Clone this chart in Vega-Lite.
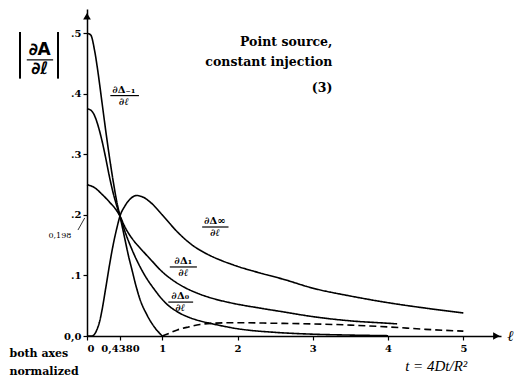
{
  "$schema": "https://vega.github.io/schema/vega-lite/v6.json",
  "width": 414,
  "height": 327,
  "autosize": "none",
  "padding": {"left": 87, "top": 9, "right": 16, "bottom": 41},
  "background": "white",
  "config": {"view": {"stroke": null}, "font": "DejaVu Serif"},
  "encoding": {
    "x": {"field": "t", "type": "quantitative", "scale": {"domain": [0, 5.5], "nice": false, "zero": false},
      "axis": {"values": [0, 0.438, 1, 2, 3, 4, 5], "labelExpr": "datum.value == 0.438 ? '0,4380' : format(datum.value, 'd')",
        "title": null, "grid": false, "domainColor": "black", "domainWidth": 1.5, "tickColor": "black", "tickSize": 4, "tickWidth": 1.2,
        "labelFont": "DejaVu Serif", "labelFontWeight": "bold", "labelFontSize": 10, "labelColor": "black", "labelPadding": 3, "labelOverlap": false}},
    "y": {"field": "v", "type": "quantitative", "scale": {"domain": [0, 0.54], "nice": false, "zero": false},
      "axis": {"values": [0, 0.1, 0.2, 0.3, 0.4, 0.5], "labelExpr": "datum.value == 0 ? '0,0' : '.' + round(datum.value * 10)",
        "title": null, "grid": false, "domainColor": "black", "domainWidth": 1.5, "tickColor": "black", "tickSize": 4, "tickWidth": 1.2,
        "labelFont": "DejaVu Serif", "labelFontWeight": "bold", "labelFontSize": 10, "labelColor": "black", "labelPadding": 2}}
  },
  "layer": [
    {
      "data": {"values": [
        {"series": "m1", "kind": "solid", "t": 0, "v": 0.5}, {"series": "m1", "kind": "solid", "t": 0.05, "v": 0.497}, {"series": "m1", "kind": "solid", "t": 0.1, "v": 0.472}, {"series": "m1", "kind": "solid", "t": 0.15, "v": 0.432}, {"series": "m1", "kind": "solid", "t": 0.2, "v": 0.385}, {"series": "m1", "kind": "solid", "t": 0.25, "v": 0.338}, {"series": "m1", "kind": "solid", "t": 0.3, "v": 0.294}, {"series": "m1", "kind": "solid", "t": 0.35, "v": 0.254}, {"series": "m1", "kind": "solid", "t": 0.4, "v": 0.219}, {"series": "m1", "kind": "solid", "t": 0.438, "v": 0.198}, {"series": "m1", "kind": "solid", "t": 0.5, "v": 0.162}, {"series": "m1", "kind": "solid", "t": 0.55, "v": 0.133}, {"series": "m1", "kind": "solid", "t": 0.6, "v": 0.108}, {"series": "m1", "kind": "solid", "t": 0.65, "v": 0.083}, {"series": "m1", "kind": "solid", "t": 0.7, "v": 0.062}, {"series": "m1", "kind": "solid", "t": 0.8, "v": 0.034}, {"series": "m1", "kind": "solid", "t": 0.9, "v": 0.014}, {"series": "m1", "kind": "solid", "t": 1.0, "v": 0},
        {"series": "d0", "kind": "solid", "t": 0, "v": 0.375}, {"series": "d0", "kind": "solid", "t": 0.05, "v": 0.373}, {"series": "d0", "kind": "solid", "t": 0.1, "v": 0.364}, {"series": "d0", "kind": "solid", "t": 0.15, "v": 0.346}, {"series": "d0", "kind": "solid", "t": 0.2, "v": 0.322}, {"series": "d0", "kind": "solid", "t": 0.25, "v": 0.293}, {"series": "d0", "kind": "solid", "t": 0.3, "v": 0.262}, {"series": "d0", "kind": "solid", "t": 0.35, "v": 0.235}, {"series": "d0", "kind": "solid", "t": 0.4, "v": 0.213}, {"series": "d0", "kind": "solid", "t": 0.438, "v": 0.198}, {"series": "d0", "kind": "solid", "t": 0.5, "v": 0.174}, {"series": "d0", "kind": "solid", "t": 0.6, "v": 0.142}, {"series": "d0", "kind": "solid", "t": 0.75, "v": 0.104}, {"series": "d0", "kind": "solid", "t": 0.9, "v": 0.076}, {"series": "d0", "kind": "solid", "t": 1.04, "v": 0.055}, {"series": "d0", "kind": "solid", "t": 1.2, "v": 0.04}, {"series": "d0", "kind": "solid", "t": 1.35, "v": 0.031}, {"series": "d0", "kind": "solid", "t": 1.5, "v": 0.025}, {"series": "d0", "kind": "solid", "t": 1.67, "v": 0.02}, {"series": "d0", "kind": "solid", "t": 2.0, "v": 0.012}, {"series": "d0", "kind": "solid", "t": 2.5, "v": 0.006}, {"series": "d0", "kind": "solid", "t": 3.0, "v": 0.003}, {"series": "d0", "kind": "solid", "t": 3.5, "v": 0.0015}, {"series": "d0", "kind": "solid", "t": 4.0, "v": 0.0005},
        {"series": "d1", "kind": "solid", "t": 0, "v": 0.25}, {"series": "d1", "kind": "solid", "t": 0.1, "v": 0.245}, {"series": "d1", "kind": "solid", "t": 0.2, "v": 0.234}, {"series": "d1", "kind": "solid", "t": 0.3, "v": 0.221}, {"series": "d1", "kind": "solid", "t": 0.4, "v": 0.206}, {"series": "d1", "kind": "solid", "t": 0.438, "v": 0.198}, {"series": "d1", "kind": "solid", "t": 0.5, "v": 0.181}, {"series": "d1", "kind": "solid", "t": 0.56, "v": 0.168}, {"series": "d1", "kind": "solid", "t": 0.63, "v": 0.156}, {"series": "d1", "kind": "solid", "t": 0.7, "v": 0.146}, {"series": "d1", "kind": "solid", "t": 0.84, "v": 0.127}, {"series": "d1", "kind": "solid", "t": 1.0, "v": 0.106}, {"series": "d1", "kind": "solid", "t": 1.13, "v": 0.093}, {"series": "d1", "kind": "solid", "t": 1.3, "v": 0.08}, {"series": "d1", "kind": "solid", "t": 1.46, "v": 0.071}, {"series": "d1", "kind": "solid", "t": 1.7, "v": 0.061}, {"series": "d1", "kind": "solid", "t": 1.9, "v": 0.055}, {"series": "d1", "kind": "solid", "t": 2.3, "v": 0.046}, {"series": "d1", "kind": "solid", "t": 2.6, "v": 0.04}, {"series": "d1", "kind": "solid", "t": 3.0, "v": 0.032}, {"series": "d1", "kind": "solid", "t": 3.5, "v": 0.025}, {"series": "d1", "kind": "solid", "t": 4.0, "v": 0.021}, {"series": "d1", "kind": "solid", "t": 4.12, "v": 0.02},
        {"series": "dinf", "kind": "solid", "t": 0, "v": 0}, {"series": "dinf", "kind": "solid", "t": 0.07, "v": 0}, {"series": "dinf", "kind": "solid", "t": 0.1, "v": 0.003}, {"series": "dinf", "kind": "solid", "t": 0.13, "v": 0.01}, {"series": "dinf", "kind": "solid", "t": 0.17, "v": 0.025}, {"series": "dinf", "kind": "solid", "t": 0.2, "v": 0.043}, {"series": "dinf", "kind": "solid", "t": 0.25, "v": 0.08}, {"series": "dinf", "kind": "solid", "t": 0.3, "v": 0.118}, {"series": "dinf", "kind": "solid", "t": 0.35, "v": 0.152}, {"series": "dinf", "kind": "solid", "t": 0.4, "v": 0.18}, {"series": "dinf", "kind": "solid", "t": 0.438, "v": 0.198}, {"series": "dinf", "kind": "solid", "t": 0.5, "v": 0.214}, {"series": "dinf", "kind": "solid", "t": 0.58, "v": 0.227}, {"series": "dinf", "kind": "solid", "t": 0.66, "v": 0.232}, {"series": "dinf", "kind": "solid", "t": 0.75, "v": 0.229}, {"series": "dinf", "kind": "solid", "t": 0.85, "v": 0.22}, {"series": "dinf", "kind": "solid", "t": 1.0, "v": 0.2}, {"series": "dinf", "kind": "solid", "t": 1.2, "v": 0.172}, {"series": "dinf", "kind": "solid", "t": 1.4, "v": 0.15}, {"series": "dinf", "kind": "solid", "t": 1.6, "v": 0.135}, {"series": "dinf", "kind": "solid", "t": 1.8, "v": 0.124}, {"series": "dinf", "kind": "solid", "t": 2.0, "v": 0.115}, {"series": "dinf", "kind": "solid", "t": 2.3, "v": 0.104}, {"series": "dinf", "kind": "solid", "t": 2.6, "v": 0.094}, {"series": "dinf", "kind": "solid", "t": 3.0, "v": 0.079}, {"series": "dinf", "kind": "solid", "t": 3.5, "v": 0.066}, {"series": "dinf", "kind": "solid", "t": 4.0, "v": 0.055}, {"series": "dinf", "kind": "solid", "t": 4.5, "v": 0.046}, {"series": "dinf", "kind": "solid", "t": 5.0, "v": 0.038},
        {"series": "m1abs", "kind": "dashed", "t": 1.0, "v": 0}, {"series": "m1abs", "kind": "dashed", "t": 1.1, "v": 0.005}, {"series": "m1abs", "kind": "dashed", "t": 1.2, "v": 0.01}, {"series": "m1abs", "kind": "dashed", "t": 1.35, "v": 0.015}, {"series": "m1abs", "kind": "dashed", "t": 1.5, "v": 0.019}, {"series": "m1abs", "kind": "dashed", "t": 1.67, "v": 0.021}, {"series": "m1abs", "kind": "dashed", "t": 2.0, "v": 0.022}, {"series": "m1abs", "kind": "dashed", "t": 2.5, "v": 0.021}, {"series": "m1abs", "kind": "dashed", "t": 3.0, "v": 0.02}, {"series": "m1abs", "kind": "dashed", "t": 3.5, "v": 0.018}, {"series": "m1abs", "kind": "dashed", "t": 4.0, "v": 0.015}, {"series": "m1abs", "kind": "dashed", "t": 4.5, "v": 0.011}, {"series": "m1abs", "kind": "dashed", "t": 5.0, "v": 0.008}
      ]},
      "mark": {"type": "line", "interpolate": "monotone", "color": "black", "strokeWidth": 1.6},
      "encoding": {
        "detail": {"field": "series"},
        "strokeDash": {"field": "kind", "type": "nominal", "scale": {"domain": ["solid", "dashed"], "range": [[1, 0], [7, 4]]}, "legend": null}
      }
    },
    {
      "data": {"values": [{"t": 0, "v": 0.528}]},
      "mark": {"type": "point", "shape": "triangle-up", "filled": true, "color": "black", "size": 60, "opacity": 1},
      "encoding": {}
    },
    {
      "data": {"values": [{"t": 5.44, "v": 0}]},
      "mark": {"type": "point", "shape": "triangle-right", "filled": true, "color": "black", "size": 60, "opacity": 1},
      "encoding": {}
    },
    {
      "data": {"values": [
        {"t": 0.31, "t2": 0.69, "v": 0.397}, {"t": 1.53, "t2": 1.88, "v": 0.18}, {"t": 1.1, "t2": 1.46, "v": 0.114}, {"t": 1.08, "t2": 1.41, "v": 0.056}, {"t": -0.8, "t2": -0.45, "v": 0.456}
      ]},
      "mark": {"type": "rule", "color": "black", "strokeWidth": 1.2},
      "encoding": {"x2": {"field": "t2"}}
    },
    {
      "data": {"values": [
        {"t": -0.89, "v": 0.425, "v2": 0.502}, {"t": -0.385, "v": 0.425, "v2": 0.502}
      ]},
      "mark": {"type": "rule", "color": "black", "strokeWidth": 2},
      "encoding": {"y2": {"field": "v2"}}
    },
    {
      "data": {"values": [{"t": -0.12, "t2": -0.03, "v": 0.175, "v2": 0.195}]},
      "mark": {"type": "rule", "color": "black", "strokeWidth": 0.8},
      "encoding": {"x2": {"field": "t2"}, "y2": {"field": "v2"}}
    },
    {
      "data": {"values": [
        {"t": 0.49, "v": 0.397, "label": "∂Δ₋₁"}, {"t": 1.7, "v": 0.18, "label": "∂Δ∞"}, {"t": 1.28, "v": 0.114, "label": "∂Δ₁"}, {"t": 1.24, "v": 0.056, "label": "∂Δ₀"}
      ]},
      "mark": {"type": "text", "font": "DejaVu Serif", "fontWeight": "bold", "fontSize": 10, "color": "black", "baseline": "bottom", "dy": -1},
      "encoding": {"text": {"field": "label"}}
    },
    {
      "data": {"values": [
        {"t": 0.49, "v": 0.397, "label": "∂ℓ"}, {"t": 1.7, "v": 0.18, "label": "∂ℓ"}, {"t": 1.28, "v": 0.114, "label": "∂ℓ"}, {"t": 1.24, "v": 0.056, "label": "∂ℓ"}
      ]},
      "mark": {"type": "text", "font": "DejaVu Serif", "fontWeight": "bold", "fontStyle": "italic", "fontSize": 10, "color": "black", "baseline": "top", "dy": 1},
      "encoding": {"text": {"field": "label"}}
    },
    {
      "data": {"values": [{"t": -0.63, "v": 0.456, "label": "∂A"}]},
      "mark": {"type": "text", "font": "DejaVu Sans", "fontWeight": "bold", "fontSize": 17, "color": "black", "baseline": "bottom", "dy": -1},
      "encoding": {"text": {"field": "label"}}
    },
    {
      "data": {"values": [{"t": -0.63, "v": 0.456, "label": "∂ℓ"}]},
      "mark": {"type": "text", "font": "DejaVu Sans", "fontWeight": "bold", "fontStyle": "italic", "fontSize": 17, "color": "black", "baseline": "top", "dy": 1},
      "encoding": {"text": {"field": "label"}}
    },
    {
      "data": {"values": [
        {"t": 3.26, "v": 0.479, "label": "Point source,"}, {"t": 3.26, "v": 0.446, "label": "constant injection"}, {"t": 3.26, "v": 0.403, "label": "(3)"}
      ]},
      "mark": {"type": "text", "font": "DejaVu Serif", "fontWeight": "bold", "fontSize": 12.5, "color": "black", "align": "right", "baseline": "alphabetic"},
      "encoding": {"text": {"field": "label"}}
    },
    {
      "data": {"values": [
        {"t": -1.03, "v": -0.034, "label": "both axes"}, {"t": -1.03, "v": -0.064, "label": "normalized"}
      ]},
      "mark": {"type": "text", "font": "DejaVu Serif", "fontWeight": "bold", "fontSize": 11, "color": "black", "align": "left", "baseline": "alphabetic"},
      "encoding": {"text": {"field": "label"}}
    },
    {
      "data": {"values": [{"t": 4.64, "v": -0.058, "label": "t = 4Dt/R²"}]},
      "mark": {"type": "text", "font": "Liberation Serif", "fontStyle": "italic", "fontSize": 15, "color": "black", "align": "center", "baseline": "alphabetic"},
      "encoding": {"text": {"field": "label"}}
    },
    {
      "data": {"values": [{"t": 5.63, "v": 0, "label": "ℓ"}]},
      "mark": {"type": "text", "font": "DejaVu Serif", "fontWeight": "bold", "fontStyle": "italic", "fontSize": 15, "color": "black", "align": "center", "baseline": "middle"},
      "encoding": {"text": {"field": "label"}}
    },
    {
      "data": {"values": [{"t": -0.36, "v": 0.165, "label": "0,198"}]},
      "mark": {"type": "text", "font": "DejaVu Serif", "fontSize": 8, "color": "black", "align": "center", "baseline": "middle"},
      "encoding": {"text": {"field": "label"}}
    }
  ]
}
